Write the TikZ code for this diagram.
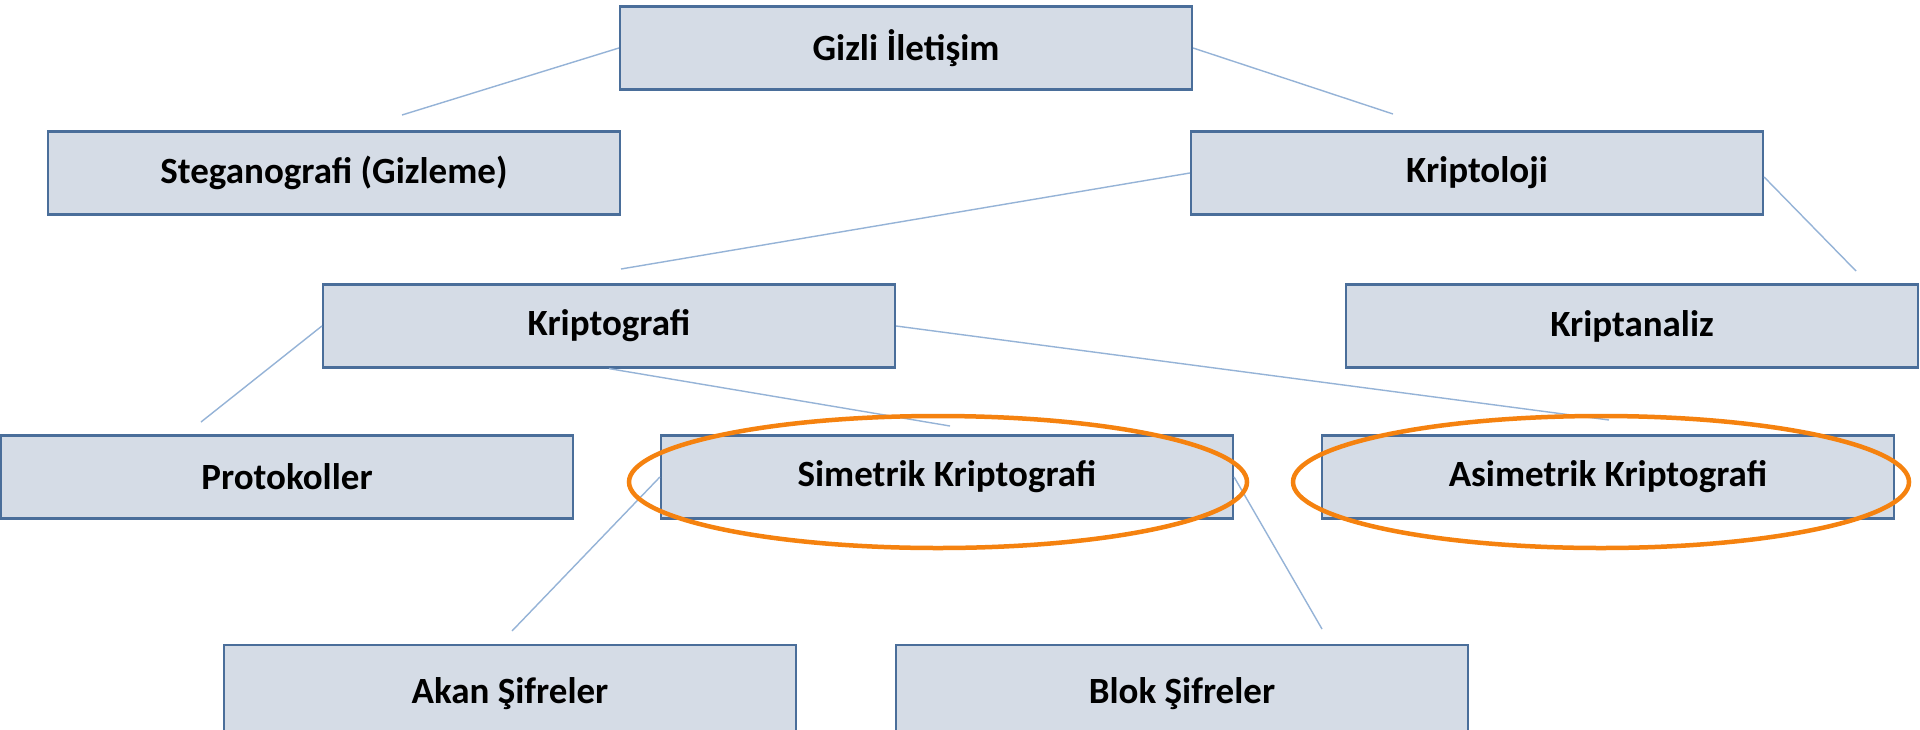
\documentclass[tikz,border=0pt]{standalone}
\usepackage{fontspec}
\setmainfont{Carlito}
\definecolor{boxfill}{HTML}{D5DCE6}
\definecolor{boxline}{HTML}{4A6E9A}
\definecolor{conn}{HTML}{95B3D7}
\definecolor{ring}{HTML}{F5820F}
\begin{document}
\begin{tikzpicture}[x=1pt,y=-1pt,
  box/.style={draw=boxline,line width=2.2pt,fill=boxfill,minimum width=572pt,minimum height=83pt,inner sep=0pt,
    font=\fontsize{37}{42}\selectfont\bfseries,text=black},
  conn/.style={draw=conn,line width=1.4pt},
  ring/.style={draw=ring,line width=4.5pt}]
\fill[white] (0,0) rectangle (1920,729);
\useasboundingbox (0,0) rectangle (1920,729);
\node[box] (giz) at (906,48) {Gizli İletişim};
\node[box] (steg) at (334,173) {Steganografi (Gizleme)};
\node[box] (klog) at (1477,173) {Kriptoloji};
\node[box] (kgraf) at (609,326) {Kriptografi};
\node[box] (kana) at (1632,326) {Kriptanaliz};
\node[box] (prot) at (287,477) {Protokoller};
\node[box] (sim) at (947,477) {Simetrik Kriptografi};
\node[box] (asim) at (1608,477) {Asimetrik Kriptografi};
\node[box,minimum height=100pt] (akan) at (510,695) {\raisebox{9pt}{Akan Şifreler}};
\node[box,minimum height=100pt] (blok) at (1182,695) {\raisebox{9pt}{Blok Şifreler}};
\coordinate (e1) at (402,115);
\coordinate (e2) at (1393,114);
\coordinate (e3) at (621,269);
\coordinate (e4) at (1856,271);
\coordinate (e5) at (201,422);
\coordinate (e6) at (950,426);
\coordinate (e7) at (1609,420);
\coordinate (e8) at (512,631);
\coordinate (e9) at (1322,629);
\draw[conn] (giz.west) -- (e1);
\draw[conn] (giz.east) -- (e2);
\draw[conn] (klog.west) -- (e3);
\draw[conn] ([yshift=-4pt]klog.east) -- (e4);
\draw[conn] (kgraf.west) -- (e5);
\draw[conn] (kgraf.south) -- (e6);
\draw[conn] (kgraf.east) -- (e7);
\draw[conn] (sim.west) -- (e8);
\draw[conn] (sim.east) -- (e9);
\coordinate (r1) at (938,482);
\coordinate (r2) at (1601,482);
\draw[ring] (r1) ellipse [x radius=309pt, y radius=66pt];
\draw[ring] (r2) ellipse [x radius=308pt, y radius=66pt];
\end{tikzpicture}
\end{document}
